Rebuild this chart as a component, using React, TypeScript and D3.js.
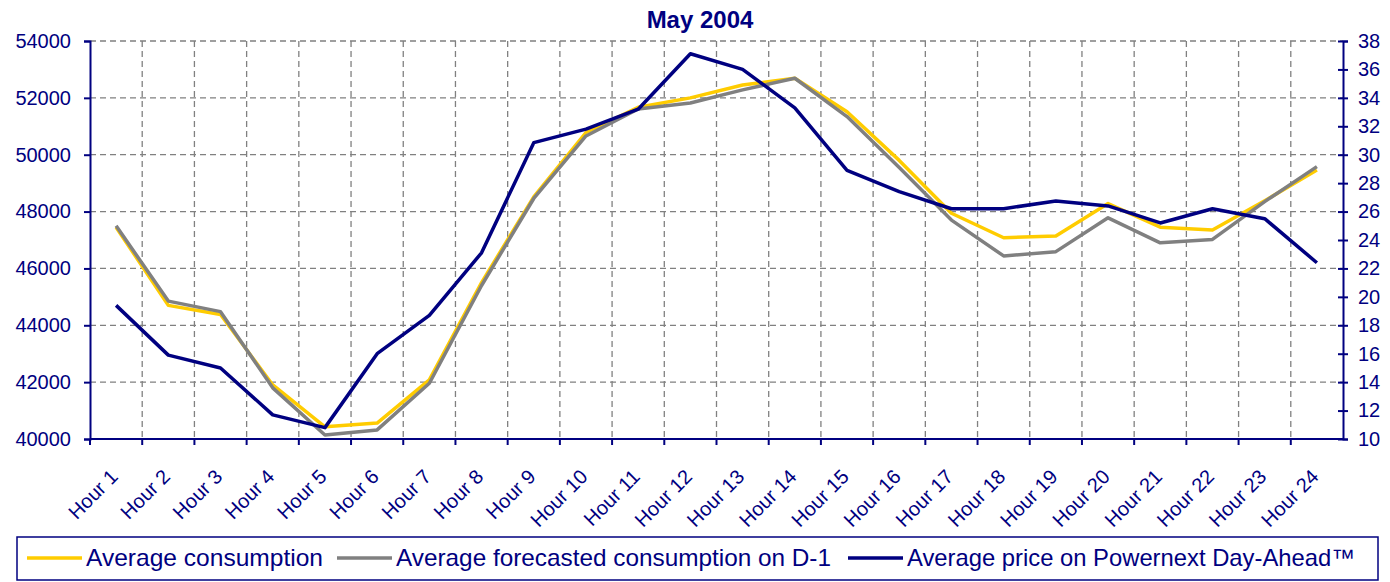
import React, { useEffect, useRef } from 'react'
import * as d3 from 'd3'

const hours = d3.range(1, 25).map(h => 'Hour ' + h)
// MW
const consumption = [47450, 44700, 44380, 41900, 40430, 40560, 42080, 45500, 48520, 50780, 51670, 52000,
  52450, 52690, 51510, 49800, 47940, 47080, 47140, 48280, 47450, 47350, 48380, 49460]
const forecast = [47500, 44850, 44480, 41800, 40140, 40320, 41960, 45400, 48460, 50660, 51610, 51820,
  52280, 52690, 51340, 49550, 47700, 46440, 46590, 47780, 46900, 47020, 48350, 49580]
// EUR/MWh
const price = [19.4, 15.9, 15.0, 11.7, 10.8, 16.0, 18.7, 23.1, 30.85, 31.8, 33.2, 37.1,
  36.0, 33.3, 28.9, 27.4, 26.2, 26.2, 26.75, 26.4, 25.2, 26.2, 25.5, 22.4]
const leftTicks = d3.range(40000, 54001, 2000)
const rightTicks = d3.range(10, 39, 2)
const legendItems = [
  { label: 'Average consumption', color: '#ffcc00' },
  { label: 'Average forecasted consumption on D-1', color: '#808080' },
  { label: 'Average price on Powernext Day-Ahead\u2122', color: '#000080' },
]

const NAVY = '#000080'
const FONT = 'Liberation Sans, Arial, sans-serif'

export default function App() {
  const ref = useRef<SVGSVGElement>(null)

  useEffect(() => {
    const svg = d3.select(ref.current)
    svg.selectAll('*').remove()

    const left = 90, right = 1343, top = 41, bottom = 439

    const x = d3.scaleBand<string>().domain(hours).range([left, right]).padding(0)
    const cx = (i: number) => (x(hours[i]) as number) + x.bandwidth() / 2
    const yL = d3.scaleLinear().domain([40000, 54000]).range([bottom, top])
    const yR = d3.scaleLinear().domain([10, 38]).range([bottom, top])

    svg.append('rect').attr('width', 1390).attr('height', 582).attr('fill', '#fff')

    // title
    svg.append('text')
      .attr('x', 700).attr('y', 28)
      .attr('text-anchor', 'middle')
      .attr('font-family', FONT).attr('font-weight', 'bold').attr('font-size', 24)
      .attr('fill', NAVY)
      .text('May 2004')

    // grid
    const grid = svg.append('g').attr('stroke', '#808080').attr('stroke-width', 1.3)
      .attr('stroke-dasharray', '6,4')
    leftTicks.filter(t => t > 40000).forEach(t => {
      grid.append('line').attr('x1', left).attr('x2', right).attr('y1', yL(t)).attr('y2', yL(t))
    })
    hours.slice(1).forEach(h => {
      const xx = x(h) as number
      grid.append('line').attr('x1', xx).attr('x2', xx).attr('y1', top).attr('y2', bottom)
    })

    // left axis
    const gl = svg.append('g').attr('transform', `translate(${left},0)`)
      .call(d3.axisLeft(yL).tickValues(leftTicks).tickSize(6).tickPadding(13).tickFormat(d3.format('d')))
    gl.select('.domain').attr('stroke', NAVY).attr('stroke-width', 2)
    gl.selectAll('.tick line').attr('stroke', NAVY).attr('stroke-width', 2)
    gl.selectAll('.tick text').attr('fill', NAVY).attr('font-family', FONT).attr('font-size', 20)

    // right axis
    const gr = svg.append('g').attr('transform', `translate(${right},0)`)
      .call(d3.axisRight(yR).tickValues(rightTicks).tickSize(5).tickPadding(10))
    gr.select('.domain').attr('stroke', NAVY).attr('stroke-width', 2)
    gr.selectAll('.tick line').attr('x1', -5).attr('stroke', NAVY).attr('stroke-width', 2)
    gr.selectAll('.tick text').attr('fill', NAVY).attr('font-family', FONT).attr('font-size', 20)

    // bottom axis
    const gb = svg.append('g')
    gb.append('line').attr('x1', left).attr('x2', right).attr('y1', bottom).attr('y2', bottom)
      .attr('stroke', NAVY).attr('stroke-width', 2)
    hours.forEach(h => {
      const xx = x(h) as number
      gb.append('line').attr('x1', xx).attr('x2', xx).attr('y1', bottom).attr('y2', bottom + 6)
        .attr('stroke', NAVY).attr('stroke-width', 2)
    })
    hours.forEach((h, i) => {
      gb.append('text')
        .attr('transform', `translate(${cx(i) + 3},${478}) rotate(-45)`)
        .attr('text-anchor', 'end')
        .attr('font-family', FONT).attr('font-size', 20)
        .attr('fill', NAVY)
        .text(h)
    })

    // lines
    const lineL = d3.line<number>().x((d, i) => cx(i)).y(d => yL(d))
    const lineR = d3.line<number>().x((d, i) => cx(i)).y(d => yR(d))
    svg.append('path').attr('d', lineL(consumption)).attr('fill', 'none')
      .attr('stroke', legendItems[0].color).attr('stroke-width', 3.5).attr('stroke-linejoin', 'round')
    svg.append('path').attr('d', lineL(forecast)).attr('fill', 'none')
      .attr('stroke', legendItems[1].color).attr('stroke-width', 3.5).attr('stroke-linejoin', 'round')
    svg.append('path').attr('d', lineR(price)).attr('fill', 'none')
      .attr('stroke', legendItems[2].color).attr('stroke-width', 3.5).attr('stroke-linejoin', 'round')

    // legend
    const lg = svg.append('g')
    lg.append('rect').attr('x', 17).attr('y', 537).attr('width', 1361).attr('height', 43)
      .attr('fill', '#fff').attr('stroke', NAVY).attr('stroke-width', 1.5)
    const legendX = [27, 337, 848]
    const legendW = [237, 435, 448]
    legendItems.forEach((it, i) => {
      const lx = legendX[i]
      lg.append('line').attr('x1', lx).attr('x2', lx + 55).attr('y1', 558).attr('y2', 558)
        .attr('stroke', it.color).attr('stroke-width', 3.5)
      lg.append('text')
        .attr('x', lx + 59).attr('y', 566)
        .attr('font-family', FONT).attr('font-size', 24)
        .attr('fill', NAVY)
        .attr('textLength', legendW[i]).attr('lengthAdjust', 'spacingAndGlyphs')
        .text(it.label)
    })
  }, [])

  return (
    <div style={{ position: 'absolute', left: 0, top: 0 }}>
      <svg ref={ref} width={1390} height={582} style={{ display: 'block' }}></svg>
    </div>
  )
}
